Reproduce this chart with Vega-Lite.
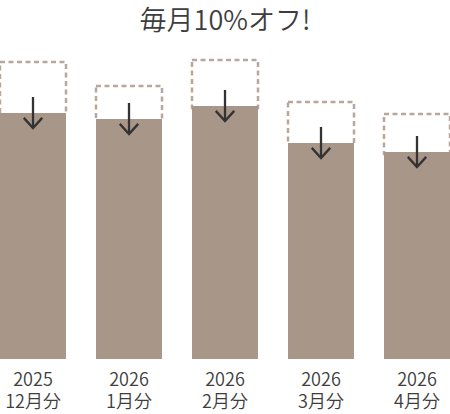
{
  "$schema": "https://vega.github.io/schema/vega-lite/v6.json",
  "width": 450,
  "height": 320,
  "autosize": {"type": "none"},
  "padding": {"top": 39, "left": 0, "right": 0, "bottom": 55},
  "title": {
    "text": "毎月10%オフ!",
    "font": "Noto Sans CJK JP",
    "fontSize": 27,
    "fontWeight": 350,
    "color": "#3d3d3d",
    "anchor": "middle",
    "offset": 3
  },
  "data": {
    "values": [
      {"period": "2025 12月分", "discounted": 246, "original": 297},
      {"period": "2026 1月分", "discounted": 240, "original": 273},
      {"period": "2026 2月分", "discounted": 253, "original": 299},
      {"period": "2026 3月分", "discounted": 216, "original": 257},
      {"period": "2026 4月分", "discounted": 207, "original": 245}
    ]
  },
  "encoding": {
    "x": {
      "field": "period",
      "type": "nominal",
      "sort": null,
      "title": null,
      "scale": {"paddingInner": 0.3125, "paddingOuter": 0},
      "axis": {
        "domain": false,
        "ticks": false,
        "grid": false,
        "labelAngle": 0,
        "labelFont": "Noto Sans CJK JP",
        "labelFontSize": 18,
        "labelFontWeight": 350,
        "labelColor": "#3d3d3d",
        "labelLineHeight": 22,
        "labelPadding": 12,
        "labelExpr": "split(datum.label, ' ')"
      }
    }
  },
  "layer": [
    {
      "mark": {
        "type": "bar",
        "filled": false,
        "stroke": "#b9a79d",
        "strokeWidth": 2.5,
        "strokeDash": [5, 3.5],
        "y2Offset": 2
      },
      "encoding": {
        "y": {"field": "original", "type": "quantitative", "scale": {"domain": [0, 320], "nice": false, "zero": true}, "axis": null},
        "y2": {"field": "discounted"}
      }
    },
    {
      "mark": {"type": "bar", "color": "#a89689"},
      "encoding": {
        "y": {"field": "discounted", "type": "quantitative"}
      }
    },
    {
      "mark": {"type": "rule", "color": "#333333", "strokeWidth": 2.3, "yOffset": -16, "y2Offset": 15},
      "encoding": {
        "y": {"field": "discounted", "type": "quantitative"},
        "y2": {"field": "discounted"}
      }
    },
    {
      "mark": {
        "type": "point",
        "shape": "M-1,-1.1L0,0L1,-1.1",
        "size": 340,
        "filled": false,
        "opacity": 1,
        "stroke": "#333333",
        "strokeWidth": 2.3,
        "yOffset": 15
      },
      "encoding": {
        "y": {"field": "discounted", "type": "quantitative"}
      }
    }
  ],
  "config": {
    "view": {"stroke": null}
  }
}
